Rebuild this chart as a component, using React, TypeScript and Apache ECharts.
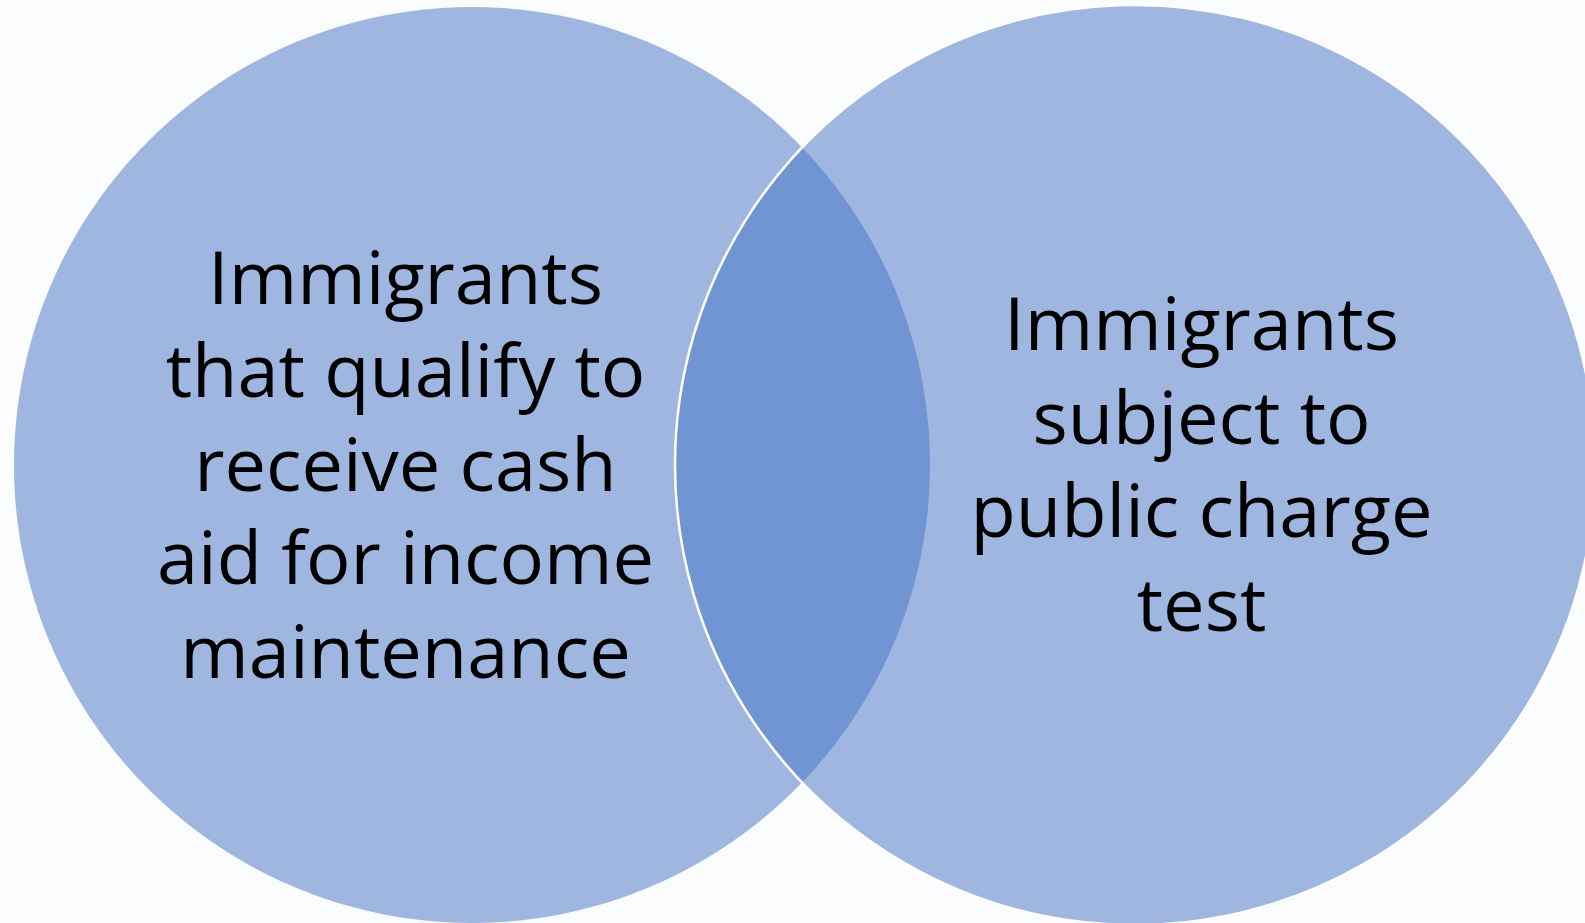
import React, { useEffect, useRef } from "react";
import * as echarts from "echarts";

// Venn diagram data (coordinates in chart units; axes span the canvas)
const SET_LABELS = [
  "Immigrants\nthat qualify to\nreceive cash\naid for income\nmaintenance",
  "Immigrants\nsubject to\npublic charge\ntest",
];
const CENTER_X = [472, 1135];
const CENTER_Y = [465, 465];
const RADIUS = [458, 460];
const LABEL_X = [405.5, 1201.5];
const LABEL_Y = [462, 462];

const X_RANGE = [0, 1585];
const Y_RANGE = [0, 923];

export default function App() {
  const ref = useRef<HTMLDivElement>(null);

  useEffect(() => {
    if (!ref.current) return;
    const chart = echarts.init(ref.current, undefined, { renderer: "svg" });

    const circleData = CENTER_X.map((x, i) => [x, CENTER_Y[i], RADIUS[i]]);
    const labelData = LABEL_X.map((x, i) => ({ value: [x, LABEL_Y[i]], name: SET_LABELS[i] }));

    chart.setOption({
      animation: false,
      backgroundColor: "#FAFCFD",
      grid: { left: 0, right: 0, top: 0, bottom: 0, containLabel: false },
      xAxis: { type: "value", min: X_RANGE[0], max: X_RANGE[1], show: false },
      yAxis: { type: "value", min: Y_RANGE[0], max: Y_RANGE[1], inverse: true, show: false },
      series: [
        {
          type: "custom",
          clip: false,
          data: circleData,
          renderItem: (params: any, api: any) => {
            const c = api.coord([api.value(0), api.value(1)]);
            const s = api.size([api.value(2), api.value(2)]);
            const isSecond = params.dataIndex === 1;
            return {
              type: "circle",
              shape: { cx: c[0], cy: c[1], r: s[0] },
              style: {
                fill: "rgba(68,114,196,0.5)",
                stroke: isSecond ? "#FFFFFF" : "none",
                lineWidth: isSecond ? 2.5 : 0,
              },
            };
          },
        },
        {
          type: "custom",
          clip: false,
          data: labelData,
          renderItem: (params: any, api: any) => {
            const c = api.coord([api.value(0), api.value(1)]);
            return {
              type: "text",
              x: c[0],
              y: c[1],
              style: {
                text: SET_LABELS[params.dataIndex],
                fill: "#000000",
                fontSize: 74,
                fontFamily: "'Open Sans', sans-serif",
                align: "center",
                verticalAlign: "middle",
                lineHeight: 93.5,
              },
            };
          },
        },
      ],
    });

    return () => chart.dispose();
  }, []);

  return (
    <div
      ref={ref}
      style={{ position: "fixed", left: 0, top: 0, width: 1585, height: 923 }}
    />
  );
}
